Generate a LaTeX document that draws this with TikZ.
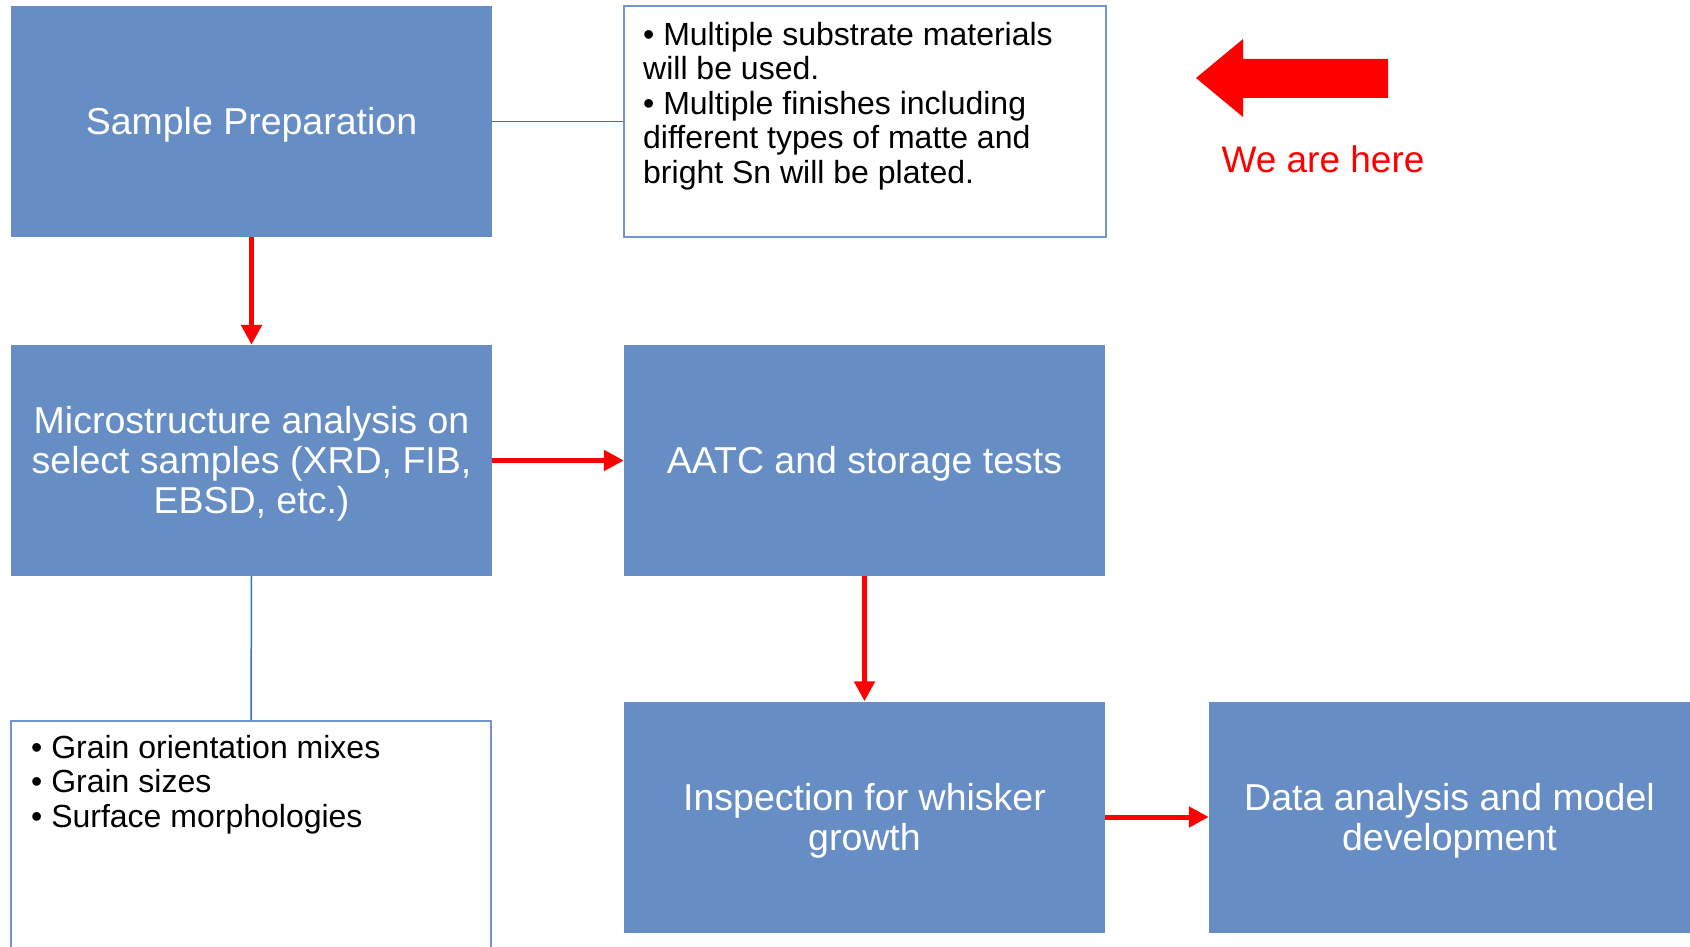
\documentclass[tikz,border=0pt]{standalone}
\usepackage{fontspec}
\setmainfont{Liberation Sans}
\usetikzlibrary{arrows.meta}
\definecolor{boxblue}{RGB}{103,142,196}
\definecolor{edgeblue}{RGB}{112,150,205}
\definecolor{linkblue}{RGB}{46,117,182}
\definecolor{pptred}{RGB}{255,0,0}
\tikzset{
  bluebox/.style={draw=none, fill=boxblue, minimum width=481pt, minimum height=231pt,
    inner sep=0pt},
  boxlabel/.style={inner sep=0pt, text=white, align=center, yshift=-3.5pt,
    font=\fontsize{37.5}{40}\selectfont},
  notebox/.style={draw=edgeblue, line width=1.6pt, fill=white, inner sep=0pt},
  notetext/.style={anchor=north west, inner sep=0pt, align=left, text=black},
  redarrow/.style={draw=pptred, line width=5pt, -{Triangle[length=20pt,width=20pt]}},
  bluelink/.style={draw=linkblue, line width=1.5pt},
}
\begin{document}
\begin{tikzpicture}[x=1pt,y=-1pt]
\useasboundingbox (0,0) rectangle (1690,947);
\begin{scope}
\clip (0,0) rectangle (1690,947);
% boxes
\node[bluebox, label={[boxlabel]center:Sample Preparation}] (sp) at (251.5,121.5) {};
\node[notebox, minimum width=482pt, minimum height=231pt] (t1) at (865,121.5) {};
\node[bluebox, label={[boxlabel]center:{Microstructure analysis on\\select samples (XRD, FIB,\\EBSD, etc.)}}] (ms) at (251.5,460.5) {};
\node[bluebox, label={[boxlabel]center:AATC and storage tests}] (aatc) at (864.5,460.5) {};
\node[notebox, minimum width=480pt, minimum height=240pt] (t2) at (251,841) {};
\node[bluebox, label={[boxlabel]center:{Inspection for whisker\\growth}}] (ins) at (864.5,817) {};
\node[bluebox, label={[boxlabel]center:{Data analysis and model\\development}}] (da) at (1449.5,817) {};
% note texts
\node[notetext, font=\fontsize{32}{34.5}\selectfont] (t1text) at (643,22)
  {• Multiple substrate materials\\will be used.\\• Multiple finishes including\\different types of matte and\\bright Sn will be plated.};
\node[notetext, font=\fontsize{32}{34.5}\selectfont] (t2text) at (31,735)
  {• Grain orientation mixes\\• Grain sizes\\• Surface morphologies};
% connectors
\draw[bluelink] (sp.east) -- (t1.west);
\draw[bluelink] (ms.south) -- (t2.north);
\draw[redarrow] (sp.south) -- (ms.north);
\draw[redarrow] (ms.east) -- (aatc.west);
\draw[redarrow] (aatc.south) -- (ins.north);
\draw[redarrow] (ins.east) -- (da.west);
% big arrow
\fill[pptred] (1196,78) -- (1243,39) -- (1243,59) -- (1388,59) -- (1388,98) -- (1243,98) -- (1243,117) -- cycle;
\node[anchor=base, inner sep=0pt, text=pptred, font=\fontsize{37}{40}\selectfont] (here) at (1323,173) {We are here};
\end{scope}
\end{tikzpicture}
\end{document}
